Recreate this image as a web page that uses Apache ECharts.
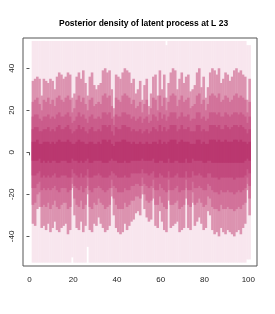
<!DOCTYPE html>
<html><head><meta charset="utf-8">
<script src="https://cdn.jsdelivr.net/npm/echarts@6/dist/echarts.min.js"></script>
<style>html,body{margin:0;padding:0;background:#fff}#c{width:275px;height:314px}</style>
</head><body><div id="c"></div>
<script>
const titleText = "Posterior density of latent process at L 23";
const xTicks = [0, 20, 40, 60, 80, 100];
const yTicks = [-40, -20, 0, 20, 40];
const time = Array.from({length: 100}, (_, i) => i + 1);

// palest band (full posterior support)
const pHi = [53,53,53,53,53,53,53,53,53,53, 53,53,53,53,53,53,53,53,53,53, 53,53,53,53,53,53,53,53,53,53,
 53,53,53,53,53,53,53,53,53,53, 53,53,53,53,53,53,53,53,53,53, 53,53,53,53,53,53,53,53,53,53,
 53,51,53,53,53,53,53,53,53,53, 53,53,53,53,53,53,53,53,53,53, 53,53,53,53,53,53,53,53,53,53,
 53,53,53,53,53,53,53,53,51,51];
const pLo = [-52.5,-52.5,-52.5,-52.5,-52.5,-52.5,-52.5,-52.5,-52.5,-52.5, -52.5,-52.5,-52.5,-52.5,-52.5,-52.5,-52.5,-52.5,-50,-52.5,
 -52.5,-52.5,-52.5,-52.5,-52.5,-45,-52.5,-52.5,-52.5,-52.5, -52.5,-52.5,-52.5,-52.5,-52.5,-52.5,-52.5,-52.5,-52.5,-52.5,
 -52.5,-52.5,-52.5,-52.5,-52.5,-52.5,-52.5,-52.5,-52.5,-52.5, -52.5,-52.5,-52.5,-52.5,-52.5,-52.5,-52.5,-52.5,-52.5,-52.5,
 -52.5,-52.5,-52.5,-52.5,-52.5,-52.5,-52.5,-52.5,-52.5,-52.5, -52.5,-52.5,-52.5,-52.5,-52.5,-52.5,-52.5,-52.5,-52.5,-52.5,
 -52.5,-52.5,-52.5,-52.5,-52.5,-52.5,-52.5,-52.5,-52.5,-52.5, -52.5,-52.5,-52.5,-52.5,-52.5,-52.5,-52.5,-52.5,-51,-51];

const aHi = [34,35,36,35,27,35,34,33,35,34, 30,36,38,37,35,36,38,37,26,28, 36,38,35,39,33,27,36,38,32,30,
 32,33,39,40,38,39,30,21,37,36, 35,38,40,39,38,33,35,28,30,34, 25,32,35,22,28,36,37,27,39,30,
 37,26,33,38,40,39,30,35,38,33, 36,37,29,30,32,38,40,31,36,26, 31,38,40,39,37,40,33,35,38,37,
 34,36,39,40,38,39,37,36,25,35];
const aLo = [-34,-35,-27,-26,-36,-35,-37,-34,-38,-36, -33,-37,-38,-36,-35,-34,-39,-37,-17,-30, -36,-37,-33,-38,-35,-20,-37,-38,-34,-35,
 -31,-34,-36,-38,-37,-35,-21,-30,-36,-38, -39,-38,-34,-37,-35,-33,-32,-29,-28,-30, -20,-27,-31,-33,-32,-22,-35,-36,-28,-33,
 -37,-38,-23,-36,-35,-34,-33,-38,-37,-36, -22,-36,-37,-24,-35,-33,-31,-34,-37,-36, -28,-30,-37,-39,-38,-40,-36,-38,-39,-37,
 -38,-39,-40,-38,-37,-39,-36,-34,-18,-30];

const bHi = [24,25,26,23,20,25,24,26,23,25, 22,26,27,25,24,26,27,25,19,21, 25,27,24,26,23,20,25,26,22,23,
 24,23,27,28,26,27,22,17,26,25, 24,27,28,27,26,23,25,21,22,24, 19,23,25,18,21,26,25,20,27,22,
 26,20,24,27,28,27,22,25,27,24, 25,26,21,22,23,27,28,23,25,20, 23,27,28,27,26,28,24,25,27,26,
 24,25,27,28,26,27,26,25,19,24];
const bLo = [-25,-24,-20,-19,-26,-25,-26,-24,-27,-25, -23,-26,-27,-25,-24,-24,-27,-26,-15,-22, -25,-26,-23,-27,-25,-16,-26,-27,-24,-25,
 -22,-24,-25,-27,-26,-25,-17,-22,-25,-27, -27,-27,-24,-26,-25,-23,-23,-21,-21,-22, -16,-20,-23,-24,-23,-17,-25,-25,-21,-24,
 -26,-27,-18,-25,-25,-24,-23,-27,-26,-25, -17,-25,-26,-19,-25,-24,-22,-24,-26,-25, -21,-22,-26,-27,-27,-28,-25,-27,-27,-26,
 -27,-27,-28,-27,-26,-27,-25,-24,-15,-22];

const cHi = [17,18,18,16,15,17,17,18,16,17, 16,18,19,17,17,18,19,17,14,15, 17,19,17,18,16,14,17,18,16,16,
 17,16,19,19,18,19,16,13,18,17, 17,19,19,18,18,16,17,15,16,17, 14,16,17,14,15,18,17,15,19,16,
 18,15,17,19,19,19,16,17,19,17, 17,18,15,16,16,19,19,16,17,15, 16,19,19,19,18,19,17,17,19,18,
 17,18,19,19,18,19,18,17,14,17];
const cLo = [-17,-17,-15,-14,-18,-17,-18,-17,-18,-17, -16,-18,-19,-17,-17,-17,-19,-18,-12,-16, -17,-18,-16,-19,-17,-12,-18,-19,-17,-17,
 -16,-17,-18,-19,-18,-17,-13,-16,-17,-19, -19,-19,-17,-18,-18,-16,-16,-15,-15,-16, -12,-15,-16,-17,-16,-13,-18,-18,-15,-17,
 -18,-19,-13,-18,-18,-17,-16,-19,-18,-18, -13,-18,-18,-14,-17,-17,-16,-17,-18,-18, -15,-16,-18,-19,-19,-20,-18,-19,-19,-18,
 -19,-19,-20,-19,-18,-19,-18,-17,-12,-16];

const dHi = [11,12,12,10,10,11,11,12,10,11, 10,12,13,11,11,12,13,11,9,10, 11,13,11,12,10,9,11,12,10,10,
 11,10,13,13,12,13,10,8,12,11, 11,13,13,12,12,10,11,10,10,11, 9,10,11,9,10,12,11,10,13,10,
 12,10,11,13,13,13,10,11,13,11, 11,12,10,10,10,13,13,10,11,10, 10,13,13,13,12,13,11,11,13,12,
 11,12,13,13,12,13,12,11,9,11];
const dLo = [-11,-11,-10,-9,-12,-11,-12,-11,-12,-11, -10,-12,-12,-11,-11,-11,-12,-12,-8,-10, -11,-12,-10,-12,-11,-8,-12,-12,-11,-11,
 -10,-11,-12,-12,-12,-11,-9,-10,-11,-12, -12,-12,-11,-12,-12,-10,-10,-10,-10,-10, -8,-10,-10,-11,-10,-9,-12,-12,-10,-11,
 -12,-12,-9,-12,-12,-11,-10,-12,-12,-12, -9,-12,-12,-9,-11,-11,-10,-11,-12,-12, -10,-10,-12,-12,-12,-13,-12,-12,-12,-12,
 -12,-12,-13,-12,-12,-12,-12,-11,-8,-10];

const eHi = [5,5,6,4,4,5,5,5,4,5, 4,5,6,5,5,5,6,5,4,4, 5,6,5,5,4,4,5,5,4,4,
 5,4,6,6,5,6,4,3,5,5, 5,6,6,5,5,4,5,4,4,5, 4,4,5,4,4,5,5,4,6,4,
 5,4,5,6,6,6,4,5,6,5, 5,5,4,4,4,6,6,4,5,4, 4,6,6,6,5,6,5,5,6,5,
 5,5,6,6,5,6,5,5,4,5];
const eLo = [-4,-4,-4,-3,-5,-4,-5,-4,-5,-4, -4,-5,-5,-4,-4,-4,-5,-5,-3,-4, -4,-5,-4,-5,-4,-3,-5,-5,-4,-4,
 -4,-4,-5,-5,-5,-4,-3,-4,-4,-5, -5,-5,-4,-5,-5,-4,-4,-4,-4,-4, -3,-4,-4,-4,-4,-3,-5,-5,-4,-4,
 -5,-5,-3,-5,-5,-4,-4,-5,-5,-5, -3,-5,-5,-3,-4,-4,-4,-4,-5,-5, -4,-4,-5,-5,-5,-5,-5,-5,-5,-5,
 -5,-5,-5,-5,-5,-5,-5,-4,-3,-4];

const bandColors = ['#f8e6ee', '#dc93b0', '#d2729a', '#ca5c8b', '#c2497d', '#ba376f'];
const bands = [[pLo, pHi], [aLo, aHi], [bLo, bHi], [cLo, cHi], [dLo, dHi], [eLo, eHi]];

const chart = echarts.init(document.getElementById('c'), null, {renderer: 'canvas'});
const FONT = "'Liberation Sans', Arial, Helvetica, sans-serif";

const series = bands.map((b, k) => ({
  type: 'custom',
  clip: true,
  data: time.map((t, i) => [t, b[0][i], b[1][i]]),
  encode: {x: 0, y: [1, 2]},
  renderItem: function (params, api) {
    const t = api.value(0);
    const p1 = api.coord([t, api.value(2)]);
    const p2 = api.coord([t + 1, api.value(1)]);
    return {
      type: 'rect',
      shape: {x: p1[0], y: p1[1], width: p2[0] - p1[0] + 0.4, height: p2[1] - p1[1]},
      style: {fill: bandColors[k]}
    };
  }
}));

chart.setOption({
  animation: false,
  backgroundColor: '#ffffff',
  title: {
    text: titleText,
    left: 54, top: 14,
    textStyle: {fontSize: 8.5, fontWeight: 'bold', color: '#000', fontFamily: FONT}
  },
  grid: {left: 23, right: 18, top: 38, bottom: 48, show: true, borderColor: '#555', borderWidth: 1, backgroundColor: 'transparent'},
  xAxis: {
    type: 'value', min: -2.96, max: 103.96,
    axisLine: {show: false},
    splitLine: {show: false},
    axisTick: {show: true, inside: false, length: 3, customValues: xTicks, lineStyle: {color: '#555'}},
    axisLabel: {customValues: xTicks, fontSize: 8, color: '#222', margin: 10, fontFamily: FONT}
  },
  yAxis: {
    type: 'value', min: -54.1, max: 54.4,
    axisLine: {show: false},
    splitLine: {show: false},
    axisTick: {show: true, inside: false, length: 3, customValues: yTicks, lineStyle: {color: '#555'}},
    axisLabel: {customValues: yTicks, fontSize: 8, color: '#222', margin: 7, rotate: 90, fontFamily: FONT}
  },
  series: series
});
</script></body></html>
